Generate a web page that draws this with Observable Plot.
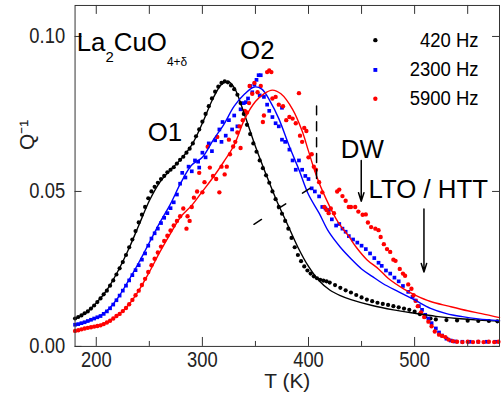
<!DOCTYPE html>
<html><head><meta charset="utf-8">
<script src="https://cdn.jsdelivr.net/npm/d3@7"></script>
<script src="https://cdn.jsdelivr.net/npm/@observablehq/plot@0.6"></script>
<style>
html,body{margin:0;padding:0;overflow:hidden;background:#fff;}
svg{display:block;}
</style></head><body><div id="chart"></div>
<script>
// ---- axis ticks ----
const xTicksMajor = [200, 300, 400, 500];
const xTicksMinor = [250, 350, 450, 550];
const yTicks = [0, 0.05, 0.10];
const yTickLabels = ["0.00", "0.05", "0.10"];
const xTickLabels = ["200", "300", "400", "500"];

// ---- 420 Hz data (black) ----
const blackT = [180,183,186,189,192,195,198,201,204,207,210,213,216,219,222,225,228,231,234,237,240,243,246,249,252,255,258,261,264,267,270,273,276,279,282,285,288,291,294,297,300,303,306,309,312,315,318,321,324,327,330,333,336,339,342,345,348,351,354,357,360,363,366,369,372,375,378,381,384,387,390,393,396,399,402,405,408,411,414,417,420,425,430,435,440,445,450,455,460,465,470,475,480,485,490,495,500,505,510,515,520,530,540,550,560,570,578];
const blackQ = [0.0090,0.0095,0.0100,0.0107,0.0113,0.0122,0.0132,0.0143,0.0155,0.0168,0.0180,0.0196,0.0213,0.0232,0.0252,0.0272,0.0295,0.0320,0.0345,0.0372,0.0400,0.0425,0.0450,0.0478,0.0500,0.0515,0.0528,0.0540,0.0550,0.0562,0.0570,0.0578,0.0590,0.0602,0.0612,0.0625,0.0638,0.0655,0.0678,0.0700,0.0725,0.0750,0.0775,0.0800,0.0822,0.0838,0.0850,0.0855,0.0852,0.0842,0.0830,0.0812,0.0785,0.0750,0.0715,0.0685,0.0655,0.0628,0.0600,0.0575,0.0552,0.0528,0.0500,0.0475,0.0450,0.0428,0.0405,0.0380,0.0350,0.0320,0.0295,0.0275,0.0258,0.0245,0.0235,0.0226,0.0220,0.0215,0.0212,0.0210,0.0206,0.0198,0.0189,0.0181,0.0174,0.0166,0.0158,0.0151,0.0146,0.0141,0.0137,0.0134,0.0130,0.0126,0.0122,0.0118,0.0112,0.0104,0.0096,0.0090,0.0087,0.0085,0.0084,0.0083,0.0082,0.0082,0.0081];
const blackFitT = [180,190,200,210,220,230,240,250,260,270,280,290,300,310,318,324,330,340,350,360,370,380,390,400,410,420,430,440,460,480,500,520,540,560,580];
const blackFitQ = [0.0088,0.0108,0.0140,0.0182,0.0240,0.0310,0.0390,0.0470,0.0530,0.0570,0.0605,0.0650,0.0720,0.0800,0.0845,0.0855,0.0835,0.0745,0.0645,0.0555,0.0470,0.0395,0.0320,0.0258,0.0212,0.0182,0.0164,0.0151,0.0132,0.0118,0.0107,0.0097,0.0090,0.0085,0.0082];

// ---- 2300 Hz data (blue) ----
const blueT = [180,183,186,189,192,195,198,201,204,207,210,213,216,219,222,225,228,231,234,237,240,243,246,249,252,255,258,261,264,267,270,273,276,279,281,284,287,290,293,296,297,300,303,306,309,312,316,318,319,322,325,328,330,333,336,339,341,343,345,347,349,351,353,355,354,358,361,363,366,369,372,375,375,378,382,385,388,391,394,397,400,403,406,410,413,416,419,422,426,429,432,435,438,442,446,450,454,458,462,466,469,473,477,481,485,489,494,498,501,504,507,510,513,516,520,523,526,530,534,538,545,552,560,568,576];
const blueQ = [0.0070,0.0072,0.0075,0.0078,0.0082,0.0086,0.0090,0.0094,0.0098,0.0105,0.0113,0.0123,0.0135,0.0149,0.0164,0.0180,0.0196,0.0213,0.0230,0.0246,0.0262,0.0280,0.0300,0.0325,0.0348,0.0365,0.0380,0.0398,0.0415,0.0430,0.0446,0.0465,0.0490,0.0525,0.0560,0.0545,0.0580,0.0565,0.0600,0.0596,0.0577,0.0625,0.0610,0.0655,0.0630,0.0665,0.0700,0.0660,0.0724,0.0680,0.0730,0.0700,0.0745,0.0710,0.0765,0.0785,0.0788,0.0800,0.0840,0.0820,0.0845,0.0860,0.0875,0.0875,0.0810,0.0805,0.0780,0.0760,0.0740,0.0720,0.0710,0.0770,0.0667,0.0660,0.0635,0.0600,0.0570,0.0600,0.0570,0.0550,0.0540,0.0510,0.0500,0.0484,0.0450,0.0445,0.0440,0.0410,0.0390,0.0395,0.0380,0.0370,0.0356,0.0345,0.0335,0.0325,0.0314,0.0300,0.0285,0.0270,0.0260,0.0245,0.0235,0.0222,0.0210,0.0195,0.0176,0.0160,0.0148,0.0130,0.0118,0.0102,0.0090,0.0075,0.0058,0.0045,0.0035,0.0025,0.0019,0.0016,0.0015,0.0015,0.0015,0.0015,0.0015];
const blueFitT = [180,190,200,210,220,230,240,250,260,270,280,290,300,310,320,330,340,349,356,364,372,382,391,400,410,419,430,440,450,460,470,485,500,515,530,545,560,580];
const blueFitQ = [0.0070,0.0078,0.0092,0.0115,0.0155,0.0210,0.0270,0.0335,0.0400,0.0460,0.0530,0.0585,0.0610,0.0665,0.0715,0.0775,0.0815,0.0837,0.0830,0.0790,0.0735,0.0645,0.0570,0.0490,0.0430,0.0370,0.0320,0.0283,0.0250,0.0226,0.0203,0.0176,0.0150,0.0123,0.0106,0.0096,0.0089,0.0083];

// ---- 5900 Hz data (red) ----
const redT = [180,183,186,189,192,195,198,201,204,207,210,213,216,219,222,225,228,231,234,237,240,243,246,249,252,255,258,261,264,267,270,273,276,279,282,285,286,288,290,292,295,297,300,302,305,307,310,313,314,316,318,321,323,325,326,329,331,333,335,336,338,340,342,344,344.5,347,349,352,355,357,358,361,363,365,366,369,372,376,379,382,385,388,391,392,394,396,398,400,403,405,407,410,413,415,417,419,421,424,427,429,432,435,438,440,444,447,451,454,456,459,463,466,468,471,474,477,480,482,486,489,491,494,497,499,501,503,506,509,513,516,519,523,526,529,532,536,540,545,550,555,560,565,570,575,579];
const redQ = [0.0050,0.0052,0.0055,0.0058,0.0060,0.0062,0.0064,0.0066,0.0068,0.0072,0.0077,0.0083,0.0090,0.0098,0.0105,0.0114,0.0124,0.0136,0.0150,0.0165,0.0180,0.0198,0.0218,0.0240,0.0262,0.0283,0.0303,0.0322,0.0340,0.0357,0.0374,0.0390,0.0405,0.0420,0.0445,0.0380,0.0420,0.0405,0.0450,0.0480,0.0500,0.0560,0.0497,0.0530,0.0644,0.0577,0.0550,0.0540,0.0676,0.0497,0.0580,0.0555,0.0580,0.0667,0.0620,0.0645,0.0660,0.0690,0.0710,0.0640,0.0730,0.0760,0.0755,0.0785,0.0840,0.0815,0.0850,0.0820,0.0840,0.0724,0.0745,0.0885,0.0890,0.0885,0.0800,0.0805,0.0780,0.0775,0.0730,0.0740,0.0735,0.0720,0.0817,0.0680,0.0660,0.0705,0.0695,0.0610,0.0620,0.0580,0.0570,0.0530,0.0497,0.0450,0.0440,0.0430,0.0445,0.0430,0.0500,0.0506,0.0485,0.0470,0.0450,0.0450,0.0450,0.0435,0.0425,0.0426,0.0400,0.0385,0.0380,0.0375,0.0353,0.0330,0.0314,0.0305,0.0280,0.0276,0.0250,0.0235,0.0228,0.0200,0.0186,0.0165,0.0147,0.0130,0.0110,0.0095,0.0080,0.0065,0.0048,0.0038,0.0034,0.0030,0.0022,0.0017,0.0015,0.0014,0.0015,0.0014,0.0015,0.0014,0.0015,0.0014,0.0015];
const redFitT = [180,190,200,210,220,230,240,250,260,270,280,290,300,310,320,330,340,350,358,366,374,385,394,400,407,416,428,438,445,455,466,475,490,501,515,532,550,563,580];
const redFitQ = [0.0050,0.0058,0.0066,0.0078,0.0100,0.0132,0.0180,0.0240,0.0305,0.0365,0.0420,0.0455,0.0500,0.0545,0.0595,0.0650,0.0735,0.0790,0.0815,0.0827,0.0815,0.0765,0.0695,0.0630,0.0555,0.0480,0.0400,0.0355,0.0320,0.0280,0.0250,0.0220,0.0185,0.0165,0.0145,0.0130,0.0115,0.0106,0.0093];

// ---- legend ----
const legendLabels = ["420 Hz", "2300 Hz", "5900 Hz"];
const legendColors = ["#000000", "#0000ff", "#ff0000"];
const legendSymbols = ["circle", "square", "circle"];
const legendQ = [0.0988, 0.0892, 0.0799];
const legendDotT = 463;
const legendTextT = 560.3;

// ---- annotations ----
const annLabels = ["O1", "O2", "DW", "LTO / HTT"];
const annT = [248.5, 335.5, 430.5, 456.5];
const annQ = [0.0690, 0.0955, 0.0635, 0.0507];
const titleT = 181.6, titleQ = 0.0980;
const titleParts = ["La", "2", "CuO", "4+δ"];
const titleText = titleParts.join("");
const arrowT = [449.7, 508.8];
const arrowQ1 = [0.0600, 0.0443];
const arrowQ2 = [0.0468, 0.0240];
const dashVertT = [407.6, 407.6], dashVertQ = [0.0776, 0.0539];
const dashDiagT = [348.6, 405.8], dashDiagQ = [0.0394, 0.0520];

const pts = (T, Q) => T.map((t, i) => ({T: t, Q: Q[i]}));

const W = 504, H = 414, ML = 75, MR = 2, MT = 5, MB = 66;
const frameH = H - MT - MB;
const frameW = W - ML - MR;
const axisColor = "#333";

const chart = Plot.plot({
  width: W, height: H,
  marginLeft: ML, marginRight: MR, marginTop: MT, marginBottom: MB,
  x: {domain: [180, 580], axis: null},
  y: {domain: [0, 0.11], axis: null},
  style: {fontFamily: "'Liberation Sans', Arial, sans-serif", background: "white", color: "black"},
  marks: [
    // data
    Plot.dot(pts(blackT, blackQ), {x: "T", y: "Q", r: 2.1, fill: "#000", stroke: null}),
    Plot.dot(pts(blueT, blueQ), {x: "T", y: "Q", r: 2.1, symbol: "square", fill: "#0000ff", stroke: null}),
    Plot.dot(pts(redT, redQ), {x: "T", y: "Q", r: 2.2, fill: "#ff0000", stroke: null}),
    // fits
    Plot.line(pts(blackFitT, blackFitQ), {x: "T", y: "Q", stroke: "#000", strokeWidth: 1.4, curve: "catmull-rom"}),
    Plot.line(pts(blueFitT, blueFitQ), {x: "T", y: "Q", stroke: "#0000ff", strokeWidth: 1.4, curve: "catmull-rom"}),
    Plot.line(pts(redFitT, redFitQ), {x: "T", y: "Q", stroke: "#ff0000", strokeWidth: 1.4, curve: "catmull-rom"}),
    // dashed guide lines
    Plot.line(pts(dashVertT, dashVertQ), {x: "T", y: "Q", stroke: "#000", strokeWidth: 1.5, strokeDasharray: "9,7"}),
    Plot.line(pts(dashDiagT, dashDiagQ), {x: "T", y: "Q", stroke: "#000", strokeWidth: 1.5, strokeDasharray: "9,20"}),
    // arrows
    Plot.arrow(arrowT.map((t, i) => ({T: t, q1: arrowQ1[i], q2: arrowQ2[i]})), {x1: "T", x2: "T", y1: "q1", y2: "q2", stroke: "#000", strokeWidth: 1.5, headLength: 9, headAngle: 35}),
    // frame and ticks
    Plot.frame({stroke: axisColor}),
    Plot.tickX(xTicksMajor, {x: d => d, insetTop: frameH - 9, stroke: axisColor}),
    Plot.tickX(xTicksMinor, {x: d => d, insetTop: frameH - 5, stroke: axisColor}),
    Plot.tickX(xTicksMajor.concat(xTicksMinor), {x: d => d, insetBottom: frameH - 9, stroke: axisColor}),
    Plot.tickY(yTicks, {y: d => d, insetRight: frameW - 7, stroke: axisColor}),
    Plot.tickY(yTicks, {y: d => d, insetLeft: frameW - 7, stroke: axisColor}),
    // tick labels
    Plot.text(xTicksMajor, {x: d => d, frameAnchor: "bottom", dy: 20.5, text: (d, i) => xTickLabels[i], fontSize: 22, fill: "#222"}),
    Plot.text(yTicks, {y: d => d, frameAnchor: "left", dx: -10, textAnchor: "end", text: (d, i) => yTickLabels[i], fontSize: 22, fill: "#222"}),
    // axis labels
    Plot.text(["T (K)"], {frameAnchor: "bottom", dy: 41.5, text: d => d, fontSize: 21, fill: "#222"}),
    Plot.text(["Q⁻¹"], {frameAnchor: "left", dx: -48, dy: -26, rotate: -90, text: d => d, fontSize: 21, fill: "#222"}),
    // legend
    Plot.dot(legendLabels, {x: () => legendDotT, y: (d, i) => legendQ[i], r: 2.2, symbol: (d, i) => legendSymbols[i], fill: (d, i) => legendColors[i], stroke: null}),
    Plot.text(legendLabels, {x: () => legendTextT, y: (d, i) => legendQ[i], text: d => d, textAnchor: "end", fontSize: 20, fill: "#000"}),
    // annotations
    Plot.text(annLabels, {x: (d, i) => annT[i], y: (d, i) => annQ[i], text: d => d, textAnchor: "start", fontSize: 26, fill: "#000"}),
    Plot.text([titleText], {x: () => titleT, y: () => titleQ, text: d => d, textAnchor: "start", fontSize: 26, fill: "#000"})
  ]
});

document.getElementById("chart").appendChild(chart);

// condense tick and legend labels horizontally, like the reference
function condense(el, s) {
  const t = el.getAttribute("transform");
  if (t) el.setAttribute("transform", t + ` scale(${s},1)`);
  else {
    const x = el.getAttribute("x") || 0, y = el.getAttribute("y") || 0;
    el.removeAttribute("x"); el.removeAttribute("y");
    el.setAttribute("transform", `translate(${x},${y}) scale(${s},1)`);
  }
}
const ns = "http://www.w3.org/2000/svg";
chart.querySelectorAll("text").forEach(el => {
  const c = el.textContent;
  if (xTickLabels.includes(c) || yTickLabels.includes(c)) condense(el, 0.84);
  else if (legendLabels.includes(c)) condense(el, 0.93);
  else if (c === titleText) {
    el.textContent = "";
    const spec = [[titleParts[0], 26, 0], [titleParts[1], 15, 11], [titleParts[2], 26, -11], [titleParts[3], 12, 15]];
    spec.forEach(([txt, fs, dy]) => {
      const ts = document.createElementNS(ns, "tspan");
      ts.setAttribute("font-size", fs);
      if (dy) ts.setAttribute("dy", dy);
      ts.textContent = txt;
      el.appendChild(ts);
    });
  }
});
</script>
</body></html>
